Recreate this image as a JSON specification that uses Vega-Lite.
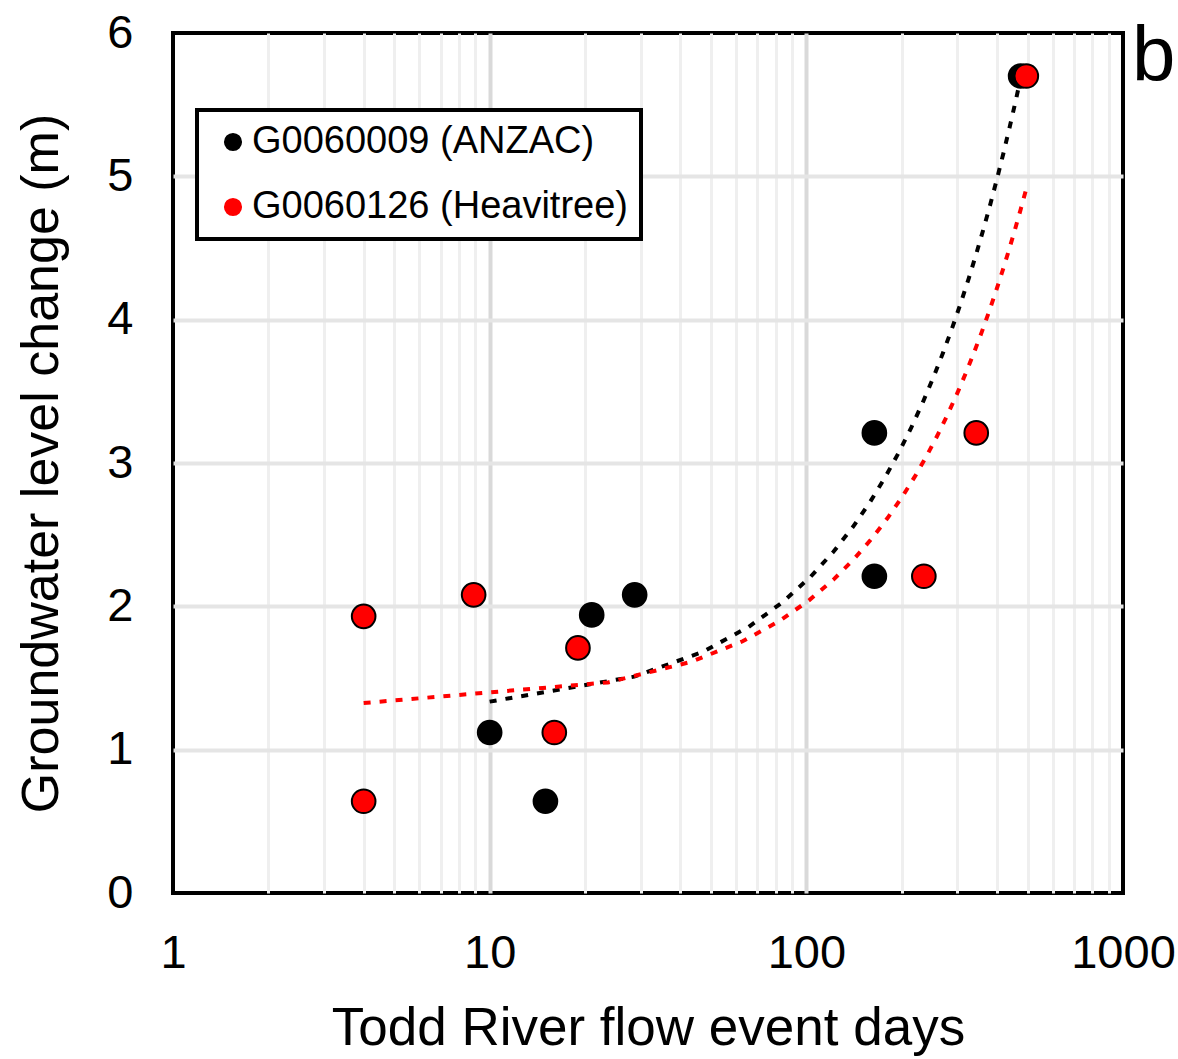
{
  "$schema": "https://vega.github.io/schema/vega-lite/v6.json",
  "width": 950,
  "height": 860,
  "autosize": {"type": "none"},
  "padding": {"left": 173, "top": 33, "right": 55, "bottom": 166},
  "background": "white",
  "title": {"text": "b", "orient": "top", "anchor": "end", "align": "right", "baseline": "alphabetic", "fontSize": 78, "font": "Liberation Sans", "fontWeight": "normal", "color": "black", "offset": -150},
  "config": {
    "font": "Liberation Sans",
    "view": {"stroke": "black", "strokeWidth": 4},
    "legend": {"strokeWidth": 4},
    "axis": {"labelFont": "Liberation Sans", "titleFont": "Liberation Sans", "labelColor": "black", "titleColor": "black", "titleFontWeight": "normal", "domain": false, "ticks": false}
  },
  "data": {
    "values": [
      {"well": "G0060009 (ANZAC)", "days": 10, "change": 1.12},
      {"well": "G0060009 (ANZAC)", "days": 15, "change": 0.64},
      {"well": "G0060009 (ANZAC)", "days": 21, "change": 1.94},
      {"well": "G0060009 (ANZAC)", "days": 28.7, "change": 2.08},
      {"well": "G0060009 (ANZAC)", "days": 164, "change": 3.21},
      {"well": "G0060009 (ANZAC)", "days": 164, "change": 2.21},
      {"well": "G0060009 (ANZAC)", "days": 475, "change": 5.7},
      {"well": "G0060126 (Heavitree)", "days": 4, "change": 1.93},
      {"well": "G0060126 (Heavitree)", "days": 4, "change": 0.64},
      {"well": "G0060126 (Heavitree)", "days": 8.9, "change": 2.08},
      {"well": "G0060126 (Heavitree)", "days": 16, "change": 1.12},
      {"well": "G0060126 (Heavitree)", "days": 19, "change": 1.71},
      {"well": "G0060126 (Heavitree)", "days": 235, "change": 2.21},
      {"well": "G0060126 (Heavitree)", "days": 344, "change": 3.21},
      {"well": "G0060126 (Heavitree)", "days": 495, "change": 5.7}
    ]
  },
  "layer": [
    {
      "transform": [{"regression": "change", "on": "days", "groupby": ["well"], "method": "poly", "order": 1}],
      "mark": {"type": "line", "strokeWidth": 4, "strokeDash": [7, 9], "strokeCap": "butt"},
      "encoding": {
        "x": {"field": "days", "type": "quantitative", "scale": {"type": "log", "domain": [1, 1000]},
          "axis": {"orient": "bottom", "values": [2,3,4,5,6,7,8,9,20,30,40,50,60,70,80,90,200,300,400,500,600,700,800,900], "grid": true, "gridColor": "#efefef", "gridWidth": 3, "labels": false, "ticks": false, "domain": false, "title": null}},
        "y": {"field": "change", "type": "quantitative", "scale": {"domain": [0, 6]},
          "axis": {"values": [0,1,2,3,4,5,6], "format": "d", "grid": true, "gridColor": "#e5e5e5", "gridWidth": 4, "gridOpacity": {"condition": {"test": "datum.value == 0 || datum.value == 6", "value": 0}, "value": 1}, "labelFontSize": 47, "labelPadding": 40, "labelFlush": false, "labelOverlap": false, "labelBound": false, "title": "Groundwater level change (m)", "titleFontSize": 52, "titlePadding": 38}},
        "color": {"field": "well", "type": "nominal", "scale": {"domain": ["G0060009 (ANZAC)", "G0060126 (Heavitree)"], "range": ["#000000", "#ff0000"]}}
      }
    },
    {
      "mark": {"type": "circle", "size": 560, "opacity": 1, "stroke": "black", "strokeWidth": 2},
      "encoding": {
        "x": {"field": "days", "type": "quantitative", "scale": {"type": "log", "domain": [1, 1000]},
          "axis": {"orient": "bottom", "values": [1, 10, 100, 1000], "format": "d", "grid": true, "gridColor": "#d9d9d9", "gridWidth": 4, "gridOpacity": {"condition": {"test": "datum.value == 1 || datum.value == 1000", "value": 0}, "value": 1}, "labelFontSize": 47, "labelPadding": 37, "labelFlush": false, "labelOverlap": false, "labelBound": false, "title": "Todd River flow event days", "titleFontSize": 53, "titlePadding": 26}},
        "y": {"field": "change", "type": "quantitative"},
        "color": {"field": "well", "type": "nominal",
          "legend": {"orient": "none", "legendX": 24, "legendY": 77, "title": null, "strokeColor": "black", "fillColor": "white", "padding": 13, "rowPadding": 27, "labelFontSize": 38, "labelFont": "Liberation Sans", "labelColor": "black", "labelLimit": 600, "symbolType": "circle", "symbolSize": 260, "symbolStrokeColor": "black", "symbolStrokeWidth": 2, "symbolOffset": 4, "labelOffset": 0}}
      }
    }
  ],
  "resolve": {"axis": {"x": "independent"}}
}
